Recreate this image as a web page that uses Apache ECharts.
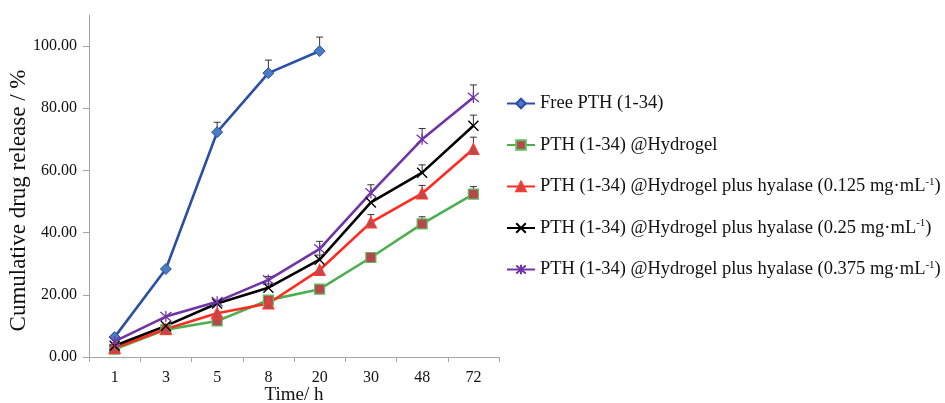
<!DOCTYPE html>
<html>
<head>
<meta charset="utf-8">
<script src="https://cdn.jsdelivr.net/npm/echarts@6/dist/echarts.min.js"></script>
<style>html,body{margin:0;padding:0;background:#fff}#c{width:945px;height:403px}</style>
</head>
<body>
<div id="c"></div>
<script>
var categories = ['1', '3', '5', '8', '20', '30', '48', '72'];
var yTicks = [0, 20, 40, 60, 80, 100];
var seriesNames = [
  'Free PTH (1-34)',
  'PTH (1-34) @Hydrogel',
  'PTH (1-34) @Hydrogel plus hyalase (0.125 mg·mL-1)',
  'PTH (1-34) @Hydrogel plus hyalase (0.25 mg·mL-1)',
  'PTH (1-34) @Hydrogel plus hyalase (0.375 mg·mL-1)'
];
var freeVals   = [6.4, 28.3, 72.3, 91.3, 98.4, null, null, null];
var freeErr    = [0, 0, 3.2, 4.2, 4.5, 0, 0, 0];
var hydroVals  = [2.5, 8.8, 11.6, 18.3, 21.8, 32.0, 42.8, 52.4];
var hydroErr   = [0, 0, 0, 0, 0, 0, 2.3, 2.4];
var h125Vals   = [2.9, 9.0, 14.1, 17.2, 28.0, 43.3, 52.6, 66.9];
var h125Err    = [0, 0, 0, 0, 0, 2.5, 2.6, 3.8];
var h25Vals    = [3.6, 10.0, 17.2, 22.3, 31.3, 49.7, 59.3, 74.4];
var h25Err     = [0, 0, 0, 1.2, 1.5, 0, 2.5, 3.4];
var h375Vals   = [5.0, 13.0, 17.8, 24.8, 34.8, 52.8, 70.0, 83.5];
var h375Err    = [0, 0, 0, 1.1, 2.4, 2.6, 3.5, 4.0];

var serif = '"Liberation Serif", "Times New Roman", serif';
var axisGray = '#a6a6a6';

function errData(vals, errs) {
  var out = [];
  for (var i = 0; i < vals.length; i++) {
    if (vals[i] != null && errs[i] > 0) out.push([i, vals[i], errs[i]]);
  }
  return out;
}
var allErr = [].concat(
  errData(freeVals, freeErr), errData(hydroVals, hydroErr), errData(h125Vals, h125Err),
  errData(h25Vals, h25Err), errData(h375Vals, h375Err));

function legendFmt(name) {
  return name.replace('mL-1)', 'mL{sup|-1})');
}

var chart = echarts.init(document.getElementById('c'), null, {renderer: 'canvas'});
chart.setOption({
  animation: false,
  backgroundColor: '#fff',
  grid: {left: 89, right: 446, top: 15, bottom: 46, containLabel: false, outerBoundsMode: 'none'},
  legend: {
    data: seriesNames,
    orient: 'vertical',
    left: 501,
    top: 88.5,
    itemWidth: 28,
    itemHeight: 12,
    itemGap: 21.5,
    formatter: legendFmt,
    textStyle: {
      fontFamily: serif, fontSize: 18.5, color: '#111', lineHeight: 20,
      rich: {
        sup: {fontFamily: serif, fontSize: 11, color: '#111', verticalAlign: 'top', lineHeight: 12}
      }
    }
  },
  xAxis: {
    type: 'category',
    data: categories,
    boundaryGap: true,
    name: 'Time/ h',
    nameLocation: 'middle',
    nameGap: 29,
    nameMoveOverlap: false,
    nameTextStyle: {fontFamily: serif, fontSize: 19, color: '#111'},
    axisLine: {lineStyle: {color: axisGray, width: 1}},
    axisTick: {show: true, inside: false, length: 5, interval: 0, lineStyle: {color: axisGray}},
    axisLabel: {fontFamily: serif, fontSize: 16, color: '#111', margin: 13, interval: 0}
  },
  yAxis: {
    type: 'value',
    min: 0,
    max: 110,
    interval: 20,
    name: 'Cumulative drug release / %',
    nameLocation: 'middle',
    nameRotate: 90,
    nameGap: 59,
    nameMoveOverlap: false,
    nameTextStyle: {fontFamily: serif, fontSize: 23, color: '#111', padding: [0, 29, 0, 0]},
    splitLine: {show: false},
    axisLine: {show: true, lineStyle: {color: axisGray, width: 1}},
    axisTick: {show: true, length: 6, lineStyle: {color: axisGray}, customValues: yTicks},
    axisLabel: {fontFamily: serif, fontSize: 16, color: '#111', margin: 12, customValues: yTicks,
      formatter: function (v) { return v.toFixed(2); }}
  },
  series: [
    {
      name: seriesNames[0], type: 'line', data: freeVals, z: 5,
      symbol: 'diamond', symbolSize: 11,
      lineStyle: {color: '#2b4fa6', width: 2.6},
      itemStyle: {color: '#4a7cc2', borderColor: '#2b4fa6', borderWidth: 1}
    },
    {
      name: seriesNames[1], type: 'line', data: hydroVals, z: 5,
      symbol: 'rect', symbolSize: 10,
      lineStyle: {color: '#4caf50', width: 2.6},
      itemStyle: {color: '#b8474d', borderColor: '#5cbf60', borderWidth: 1.2}
    },
    {
      name: seriesNames[2], type: 'line', data: h125Vals, z: 5,
      symbol: 'triangle', symbolSize: 11,
      lineStyle: {color: '#ff2b1f', width: 2.6},
      itemStyle: {color: '#c0474d', borderColor: '#ff3b2f', borderWidth: 1.2}
    },
    {
      name: seriesNames[3], type: 'line', data: h25Vals, z: 5,
      symbol: 'path://M0,0L10,10M10,0L0,10', symbolSize: 10,
      lineStyle: {color: '#000000', width: 2.6},
      itemStyle: {color: '#000000', borderColor: '#000000', borderWidth: 1.4}
    },
    {
      name: seriesNames[4], type: 'line', data: h375Vals, z: 5,
      symbol: 'path://M0,0L10,10M10,0L0,10M5,-1L5,11', symbolSize: 11,
      lineStyle: {color: '#7034a8', width: 2.6},
      itemStyle: {color: '#7034a8', borderColor: '#7034a8', borderWidth: 1.3}
    },
    {
      name: 'err', type: 'custom', data: allErr, z: 4, silent: true,
      renderItem: function (params, api) {
        var x = api.value(0), v = api.value(1), e = api.value(2);
        var p0 = api.coord([x, v]);
        var p1 = api.coord([x, v + e]);
        return {
          type: 'group',
          children: [
            {type: 'line', shape: {x1: p0[0], y1: p0[1], x2: p1[0], y2: p1[1]}, style: {stroke: '#333', lineWidth: 1}},
            {type: 'line', shape: {x1: p1[0] - 3.5, y1: p1[1], x2: p1[0] + 3.5, y2: p1[1]}, style: {stroke: '#333', lineWidth: 1}}
          ]
        };
      }
    }
  ]
});
</script>
</body>
</html>
